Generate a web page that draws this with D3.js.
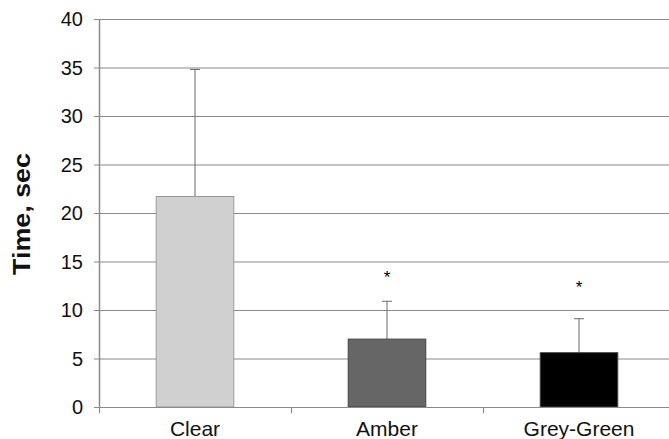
<!DOCTYPE html>
<html>
<head>
<meta charset="utf-8">
<script src="https://cdn.jsdelivr.net/npm/d3@7"></script>
<style>
  html, body { margin: 0; padding: 0; background: #fff; }
  svg { display: block; }
</style>
</head>
<body>
<svg id="chart" width="669" height="439"></svg>
<script>
const categories = ["Clear", "Amber", "Grey-Green"];
const means = [21.7, 7.0, 5.6];
const errUpper = [34.8, 10.9, 9.1];
const significance = ["", "*", "*"];
const starLevel = [null, 13.8, 12.8];
const yTicks = [0, 5, 10, 15, 20, 25, 30, 35, 40];
const yLabel = "Time, sec";
const barColors = ["#d0d0d0", "#666666", "#000000"];

(function () {
const svg = d3.select("#chart");
const plotLeft = 99, plotRight = 675, plotTop = 19, plotBottom = 407;

const x = d3.scaleBand().domain(categories).range([plotLeft, plotRight]).padding(0);
const y = d3.scaleLinear().domain([0, 40]).range([plotBottom, plotTop]);
const barW = x.bandwidth() * 0.404;

// gridlines + y ticks
svg.append("g").selectAll("line").data(yTicks).join("line")
  .attr("x1", plotLeft - 5).attr("x2", 669)
  .attr("y1", d => y(d) + 0.5).attr("y2", d => y(d) + 0.5)
  .attr("stroke", "#8a8a8a").attr("stroke-width", 1.2);

svg.append("g").selectAll("text").data(yTicks).join("text")
  .attr("x", 83).attr("y", d => y(d))
  .attr("dy", "0.36em")
  .attr("text-anchor", "end")
  .attr("font-family", "Liberation Sans, Arial, sans-serif")
  .attr("font-size", 20)
  .attr("fill", "#111")
  .text(d => d);

// y axis line
svg.append("line")
  .attr("x1", plotLeft + 0.5).attr("x2", plotLeft + 0.5)
  .attr("y1", y(40)).attr("y2", y(0) + 0.5)
  .attr("stroke", "#8a8a8a").attr("stroke-width", 1.5);

// x tick marks at band boundaries
const bounds = categories.map(c => x(c));
svg.append("g").selectAll("line").data(bounds).join("line")
  .attr("x1", d => d + 0.5).attr("x2", d => d + 0.5)
  .attr("y1", plotBottom).attr("y2", plotBottom + 6)
  .attr("stroke", "#8a8a8a").attr("stroke-width", 1.2);

// error bars (upper only)
const eb = svg.append("g");
categories.forEach((c, i) => {
  const cx = x(c) + x.bandwidth() / 2;
  eb.append("line")
    .attr("x1", cx).attr("x2", cx)
    .attr("y1", y(means[i])).attr("y2", y(errUpper[i]))
    .attr("stroke", "#6a6a6a").attr("stroke-width", 1);
  eb.append("line")
    .attr("x1", cx - 5).attr("x2", cx + 5)
    .attr("y1", y(errUpper[i])).attr("y2", y(errUpper[i]))
    .attr("stroke", "#6a6a6a").attr("stroke-width", 1);
});

// bars
svg.append("g").selectAll("rect").data(categories).join("rect")
  .attr("x", d => x(d) + (x.bandwidth() - barW) / 2)
  .attr("width", barW)
  .attr("y", (d, i) => y(means[i]))
  .attr("height", (d, i) => y(0) - y(means[i]))
  .attr("fill", (d, i) => barColors[i])
  .attr("stroke", (d, i) => i === 0 ? "#9a9a9a" : "#444")
  .attr("stroke-width", 1);

// x axis line
svg.append("line")
  .attr("x1", plotLeft).attr("x2", 669)
  .attr("y1", plotBottom + 0.5).attr("y2", plotBottom + 0.5)
  .attr("stroke", "#8a8a8a").attr("stroke-width", 1.2);

// significance stars
svg.append("g").selectAll("text").data(categories).join("text")
  .attr("x", d => x(d) + x.bandwidth() / 2)
  .attr("y", (d, i) => starLevel[i] == null ? 0 : y(starLevel[i]))
  .attr("dy", "0.6em")
  .attr("text-anchor", "middle")
  .attr("font-family", "Liberation Sans, Arial, sans-serif")
  .attr("font-size", 17)
  .attr("fill", "#000")
  .text((d, i) => significance[i]);

// category labels
svg.append("g").selectAll("text").data(categories).join("text")
  .attr("x", d => x(d) + x.bandwidth() / 2)
  .attr("y", 436)
  .attr("text-anchor", "middle")
  .attr("font-family", "Liberation Sans, Arial, sans-serif")
  .attr("font-size", 21)
  .attr("fill", "#111")
  .text(d => d);

// y label
svg.append("text")
  .attr("transform", "translate(30,214) rotate(-90)")
  .attr("text-anchor", "middle")
  .attr("font-family", "Liberation Sans, Arial, sans-serif")
  .attr("font-weight", "bold")
  .attr("font-size", 23)
  .attr("textLength", 122)
  .attr("lengthAdjust", "spacingAndGlyphs")
  .attr("fill", "#111")
  .text(yLabel);
})();
</script>
</body>
</html>
